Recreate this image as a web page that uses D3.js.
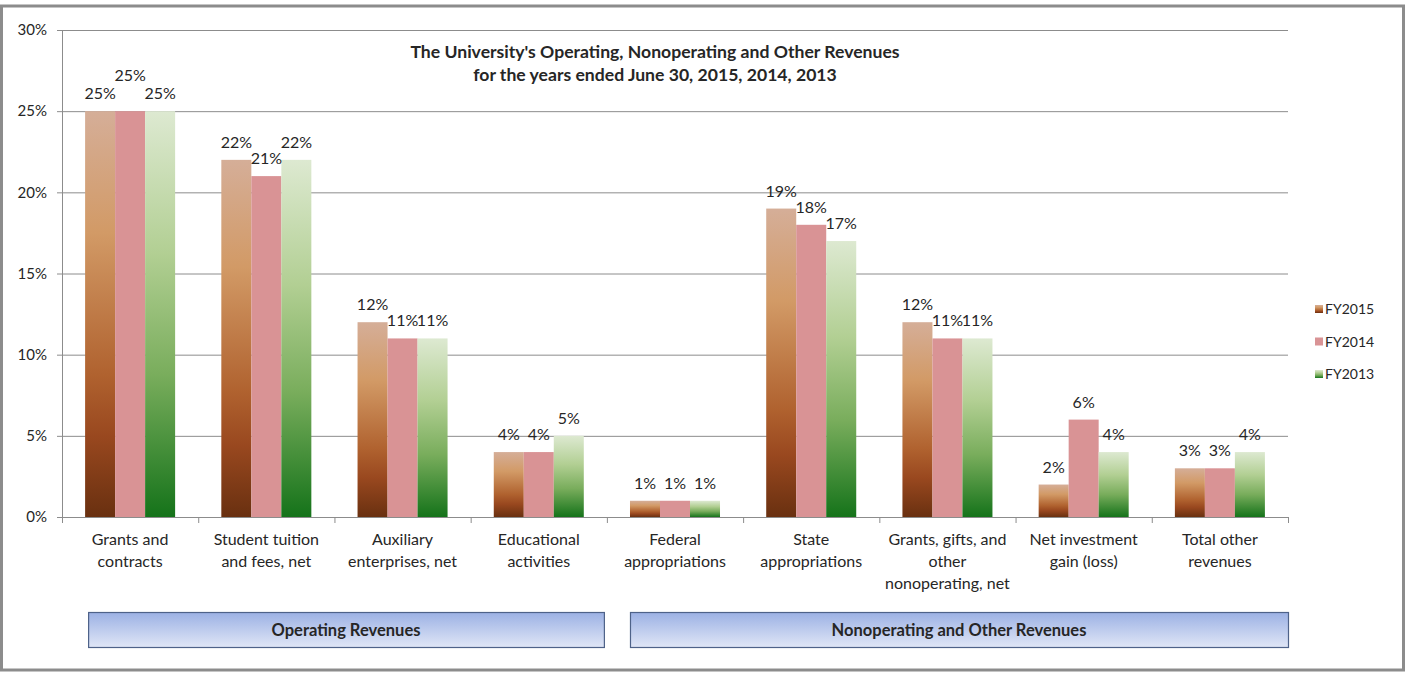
<!DOCTYPE html>
<html><head><meta charset="utf-8">
<script src="https://cdn.jsdelivr.net/npm/d3@7"></script>
<style>
body{margin:0;background:#fff;}
text{font-family:Lato,"Noto Sans",sans-serif;fill:#262626;}
</style></head>
<body><svg id="c" width="1411" height="673"></svg>
<script>
const categories = [
  ["Grants and","contracts"],
  ["Student tuition","and fees, net"],
  ["Auxiliary","enterprises, net"],
  ["Educational","activities"],
  ["Federal","appropriations"],
  ["State","appropriations"],
  ["Grants, gifts, and","other","nonoperating, net"],
  ["Net investment","gain (loss)"],
  ["Total other","revenues"]
];
const seriesNames = ["FY2015","FY2014","FY2013"];
const fy2015 = [25,22,12,4,1,19,12,2,3];
const fy2014 = [25,21,11,4,1,18,11,6,3];
const fy2013 = [25,22,11,5,1,17,11,4,4];
const yTicks = [0,5,10,15,20,25,30];
const groups = [
  {name:"Operating Revenues", from:0, to:3},
  {name:"Nonoperating and Other Revenues", from:4, to:8}
];
const titleLines = ["The University's Operating, Nonoperating and Other Revenues","for the years ended June 30, 2015, 2014, 2013"];

const values = [fy2015, fy2014, fy2013];
const svg = d3.select("#c");
const W=1411,H=673;
const M={l:62,r:1288,t:30,b:517};

svg.append("rect").attr("x",1.5).attr("y",6).attr("width",W-9).attr("height",H-9)
  .attr("fill","#fff").attr("stroke","#8c8c8c").attr("stroke-width",3);

const defs = svg.append("defs");
function grad(id, stops){
  const g = defs.append("linearGradient").attr("id",id).attr("x1",0).attr("y1",0).attr("x2",0).attr("y2",1);
  stops.forEach(s=>g.append("stop").attr("offset",s[0]).attr("stop-color",s[1]));
}
grad("g2015",[[0,"#d5ae98"],[0.3,"#d29a66"],[0.65,"#b0622f"],[0.8,"#99481f"],[1,"#693010"]]);
grad("g2014",[[0,"#d99395"],[1,"#d99395"]]);
grad("g2013",[[0,"#dde9d1"],[0.35,"#b2cf93"],[0.65,"#79ad5c"],[1,"#15731a"]]);
grad("gBox",[[0,"#9cb1e4"],[1,"#e0e6f6"]]);
const fills = ["url(#g2015)","url(#g2014)","url(#g2013)"];

const x0 = d3.scaleBand().domain(d3.range(categories.length)).range([M.l,M.r]).paddingInner(0).paddingOuter(0);
const x1 = d3.scaleBand().domain(d3.range(seriesNames.length)).range([0,x0.bandwidth()]).paddingInner(0).paddingOuter(0.77);
const y = d3.scaleLinear().domain([0,30]).range([M.b,M.t]);

// y axis + gridlines
const yAxis = d3.axisLeft(y).tickValues(yTicks).tickFormat(d=>d+"%").tickSize(5).tickPadding(10);
const ga = svg.append("g").attr("transform",`translate(${M.l},0)`).call(yAxis);
ga.select(".domain").attr("stroke","#8c8c8c");
ga.selectAll(".tick line").attr("stroke","#8c8c8c");
ga.selectAll(".tick text").style("font-size","15px").attr("fill","#333");
svg.append("g").selectAll("line").data(yTicks.filter(d=>d>0)).join("line")
  .attr("x1",M.l).attr("x2",M.r).attr("y1",d=>y(d)+0.5).attr("y2",d=>y(d)+0.5)
  .attr("stroke","#8c8c8c").attr("stroke-width",1);

// bars
const cat = svg.append("g").selectAll("g").data(categories).join("g")
  .attr("transform",(d,i)=>`translate(${x0(i)},0)`);
cat.selectAll("rect").data((d,i)=>values.map((v,s)=>({s, v:v[i]}))).join("rect")
  .attr("x",d=>x1(d.s)).attr("width",x1.bandwidth())
  .attr("y",d=>y(d.v)).attr("height",d=>y(0)-y(d.v))
  .attr("fill",d=>fills[d.s]);

// x axis
const xAxisG = svg.append("g");
xAxisG.append("line").attr("x1",M.l).attr("x2",M.r).attr("y1",M.b+0.5).attr("y2",M.b+0.5).attr("stroke","#8c8c8c");
xAxisG.selectAll("line.t").data(d3.range(categories.length+1)).join("line").attr("class","t")
  .attr("x1",i=>M.l+i*x0.step()+0.5).attr("x2",i=>M.l+i*x0.step()+0.5)
  .attr("y1",M.b).attr("y2",M.b+6).attr("stroke","#8c8c8c");
cat.each(function(lines,i){
  const t = d3.select(this).append("text").attr("text-anchor","middle").style("font-size","16px").attr("fill","#333");
  lines.forEach((l,k)=>t.append("tspan").attr("x",x0.bandwidth()/2).attr("y",M.b+28+k*22).text(l));
});

// data labels; middle label raised when crowded on both sides at the same level
cat.each(function(d,i){
  const g = d3.select(this);
  const labs = values.map((v,s)=>g.append("text").attr("text-anchor","middle").style("font-size","16px").attr("fill","#333")
      .attr("x",x1(s)+x1.bandwidth()/2).attr("y",y(v[i])-12).text(v[i]+"%"));
  const bb = labs.map(t=>t.node().getBBox());
  const ys = labs.map(t=>+t.attr("y"));
  const mid = bb[1];
  const hit = k => Math.abs(ys[k]-ys[1]) < 10 &&
    !(bb[k].x+bb[k].width<=mid.x-1 || mid.x+mid.width<=bb[k].x-1);
  if(hit(0)&&hit(2)) labs[1].attr("y",ys[1]-18);
});

// title
const tt = svg.append("text").attr("text-anchor","middle").style("font-size","17.6px").style("font-weight","bold").attr("fill","#111");
titleLines.forEach((l,k)=>tt.append("tspan").attr("x",655).attr("y",58+k*23).text(l));

// legend
const lg = svg.append("g").attr("transform","translate(1315,0)");
seriesNames.forEach((n,s)=>{
  const yy = 309 + s*32.5;
  lg.append("rect").attr("x",0).attr("y",yy-4).attr("width",8).attr("height",8).attr("fill",fills[s]);
  lg.append("text").attr("x",10).attr("y",yy+5).style("font-size","14px").attr("fill","#333").text(n);
});

// group boxes
groups.forEach((gp,k)=>{
  const xa = k===0 ? x0(gp.from)+x1(0)+3 : x0(gp.from)+x1(0);
  const xb = k===0 ? x0(gp.to)+x0.bandwidth()-3 : M.r;
  svg.append("rect").attr("x",xa+0.5).attr("y",612.5).attr("width",xb-xa).attr("height",35)
    .attr("fill","url(#gBox)").attr("stroke","#4e6289").attr("stroke-width",1.2);
  svg.append("text").attr("x",(xa+xb)/2).attr("y",636).attr("text-anchor","middle")
    .style("font-size","16.5px").style("font-weight","bold").attr("fill","#111").text(gp.name);
});
</script></body></html>
